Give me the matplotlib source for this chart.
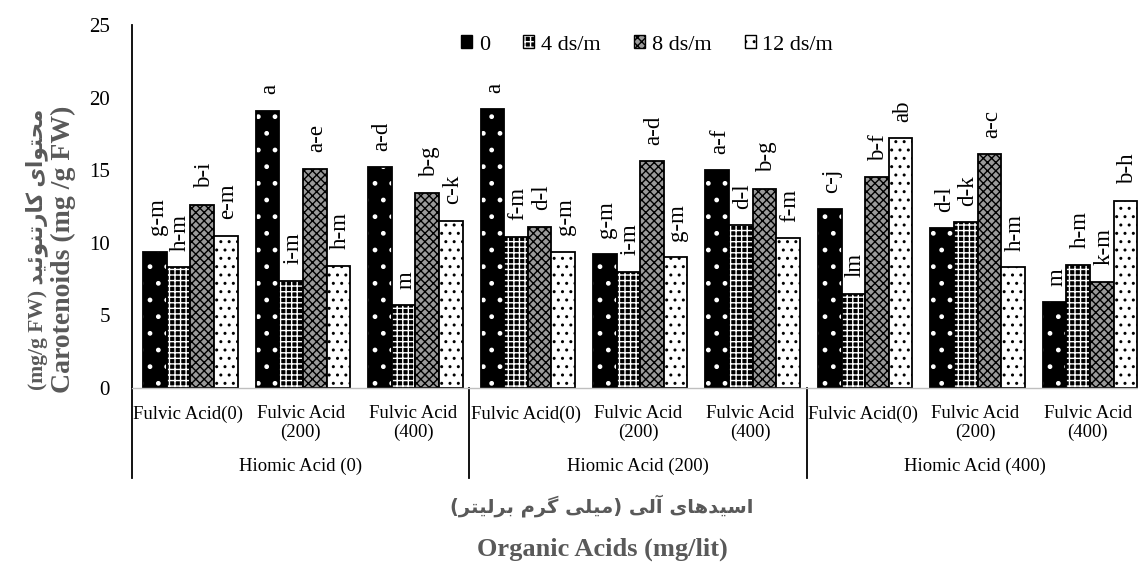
import numpy as np
import matplotlib
matplotlib.use("Agg")
import matplotlib.pyplot as plt
from matplotlib.patches import Patch
from matplotlib.legend_handler import HandlerTuple

# ---- data ----
fulvic = ["Fulvic Acid(0)", "Fulvic Acid\n(200)", "Fulvic Acid\n(400)"] * 3
humic = ["Hiomic Acid (0)", "Hiomic Acid (200)", "Hiomic Acid (400)"]
series = ["0", "4 ds/m", "8 ds/m", "12 ds/m"]

val_0 = [9.4, 19.1, 15.2, 19.2, 9.2, 15.0, 12.3, 11.0, 5.9]
val_4 = [8.3, 7.4, 5.7, 10.4, 8.0, 11.2, 6.5, 11.4, 8.5]
val_8 = [12.6, 15.1, 13.4, 11.1, 15.6, 13.7, 14.5, 16.1, 7.3]
val_12 = [10.5, 8.4, 11.5, 9.4, 9.0, 10.3, 17.2, 8.3, 12.9]

let_0 = ["g-m", "a", "a-d", "a", "g-m", "a-f", "c-j", "d-l", "m"]
let_4 = ["h-m", "i-m", "m", "f-m", "i-m", "d-l", "lm", "d-k", "h-m"]
let_8 = ["b-i", "a-e", "b-g", "d-l", "a-d", "b-g", "b-f", "a-c", "k-m"]
let_12 = ["e-m", "h-m", "c-k", "g-m", "g-m", "f-m", "ab", "h-m", "b-h"]

values = [val_0, val_4, val_8, val_12]
letters = [let_0, let_4, let_8, let_12]

# face colour, hatch, hatch colour
styles = [("black", ".", "white"),
          ("black", "+++", "white"),
          ("#9a9a9a", "xxxx", "black"),
          ("white", "..", "black")]

# ---- minimal Persian shaping (presentation forms) ----
FORMS = {
    "\u0627": ("\uFE8D", "\uFE8E", None, None),
    "\u0622": ("\uFE81", "\uFE82", None, None),
    "\u0633": ("\uFEB1", "\uFEB2", "\uFEB3", "\uFEB4"),
    "\u06CC": ("\uFBFC", "\uFBFD", "\uFBFE", "\uFBFF"),
    "\u062F": ("\uFEA9", "\uFEAA", None, None),
    "\u0647": ("\uFEE9", "\uFEEA", "\uFEEB", "\uFEEC"),
    "\u0644": ("\uFEDD", "\uFEDE", "\uFEDF", "\uFEE0"),
    "\u0645": ("\uFEE1", "\uFEE2", "\uFEE3", "\uFEE4"),
    "\u06AF": ("\uFB92", "\uFB93", "\uFB94", "\uFB95"),
    "\u0631": ("\uFEAD", "\uFEAE", None, None),
    "\u0628": ("\uFE8F", "\uFE90", "\uFE91", "\uFE92"),
    "\u062A": ("\uFE95", "\uFE96", "\uFE97", "\uFE98"),
    "\u062D": ("\uFEA1", "\uFEA2", "\uFEA3", "\uFEA4"),
    "\u0648": ("\uFEED", "\uFEEE", None, None),
    "\u06A9": ("\uFB8E", "\uFB8F", "\uFB90", "\uFB91"),
    "\u0646": ("\uFEE5", "\uFEE6", "\uFEE7", "\uFEE8"),
    "\u0626": ("\uFE89", "\uFE8A", "\uFE8B", "\uFE8C"),
}


def shape(s):
    out = []
    for i, ch in enumerate(s):
        if ch not in FORMS:
            out.append(ch)
            continue
        prev = s[i - 1] if i > 0 else ""
        nxt = s[i + 1] if i + 1 < len(s) else ""
        jp = prev in FORMS and FORMS[prev][2] is not None
        jn = FORMS[ch][2] is not None and nxt in FORMS
        iso, fin, ini, med = FORMS[ch]
        out.append(med if (jp and jn) else fin if jp else ini if jn else iso)
    swap = {"(": ")", ")": "("}
    return "".join(swap.get(c, c) for c in reversed(out))


fa_x = shape("اسیدهای آلی (میلی گرم برلیتر)")
fa_y = shape("محتوای کارتنوئید")

# ---- figure ----
plt.rcParams["font.family"] = ["Liberation Serif", "DejaVu Sans"]
plt.rcParams["hatch.linewidth"] = 1.0

fig = plt.figure(figsize=(11.38, 5.63), dpi=100)
ax = fig.add_axes([132 / 1138, 175 / 563, 1012 / 1138, 363 / 563])

x = np.arange(len(val_0))
w = 0.21
handles = []
for i, (vals, labs, (fc, hatch, hc)) in enumerate(zip(values, letters, styles)):
    pos = x + (i - 1.5) * w + 0.02
    ax.bar(pos, vals, w, color=fc, edgecolor=hc, hatch=hatch, linewidth=0)
    ax.bar(pos, vals, w, fill=False, edgecolor="black", linewidth=1.3)
    for p, v, t in zip(pos, vals, labs):
        ax.annotate(t, (p, v), xytext=(1.5, 12), textcoords="offset points",
                    rotation=90, ha="center", va="bottom", fontsize=16.5)
    handles.append((Patch(facecolor=fc, edgecolor=hc, hatch=hatch, linewidth=0),
                    Patch(fill=False, edgecolor="black", linewidth=1.0)))

ax.set_xlim(-0.5, len(x) - 0.5)
ax.set_ylim(0, 25)
ax.set_yticks(range(0, 26, 5))
ax.tick_params(axis="y", length=0, pad=16, labelsize=15)
ax.set_xticks([])
for s in ["top", "right"]:
    ax.spines[s].set_visible(False)
ax.spines["left"].set_linewidth(1.3)
ax.spines["bottom"].set_color("#bfbfbf")
ax.spines["bottom"].set_linewidth(1.0)

# multi-level category axis
tr = ax.get_xaxis_transform()
for xi, lab in zip(x, fulvic):
    ax.text(xi, -0.048, lab, transform=tr, ha="center", va="top",
            fontsize=13.5, linespacing=1.1)
for k, lab in enumerate(humic):
    ax.text(3 * k + 1, -0.215, lab, transform=tr, ha="center", va="center",
            fontsize=13.5)
for xd in [-0.5, 2.5, 5.5]:
    ax.plot([xd, xd], [0, -0.248], transform=tr, color="black",
            linewidth=1.3, clip_on=False)

ax.legend(handles, series, handler_map={tuple: HandlerTuple(ndivide=1)},
          loc="center", bbox_to_anchor=(647 / 1138, 1 - 45 / 563),
          bbox_transform=fig.transFigure, ncol=4, frameon=False,
          fontsize=16, handlelength=0.5, handleheight=0.5,
          handletextpad=0.3, columnspacing=1.5)

grey = "#595959"
fig.text(602 / 1138, 1 - 506 / 563, fa_x, ha="center", va="center",
         fontsize=14, fontweight="bold", color=grey, family="DejaVu Sans")
fig.text(602 / 1138, 1 - 549 / 563, "Organic Acids (mg/lit)", ha="center",
         va="center", fontsize=19, fontweight="bold", color=grey)
fig.text(37 / 1138, 1 - 249 / 563, "(mg/g FW) " + fa_y, rotation=90,
         ha="center", va="center", fontsize=15.5, fontweight="bold", color=grey)
fig.text(63 / 1138, 1 - 249 / 563, "Carotenoids (mg /g FW)", rotation=90,
         ha="center", va="center", fontsize=20, fontweight="bold", color=grey)

fig.savefig("out.png", dpi=100)
